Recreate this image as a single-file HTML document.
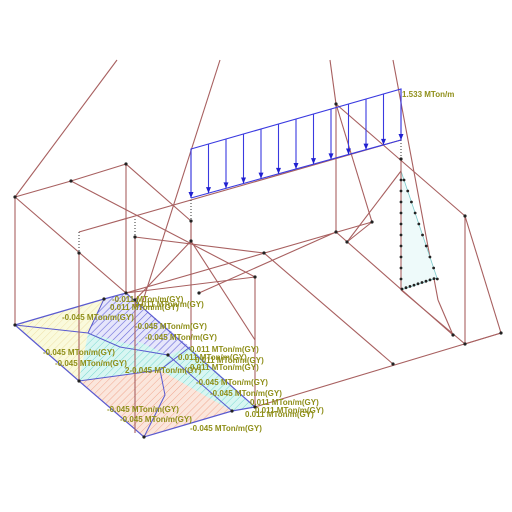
<!DOCTYPE html>
<html><head><meta charset="utf-8"><style>
html,body{margin:0;padding:0;background:#fff;}
svg{display:block;}
.m{stroke:#a86060;stroke-width:1.1;fill:none;}
.lab{font-family:"Liberation Sans",sans-serif;font-size:8px;font-weight:bold;fill:#8f8f1a;}
</style></head><body>
<svg id="s" width="512" height="512" viewBox="0 0 512 512">
<defs>
<pattern id="hb" width="5" height="5" patternUnits="userSpaceOnUse" patternTransform="rotate(45)"><rect width="5" height="5" fill="#e6e6fb"/><line x1="0" y1="0" x2="0" y2="5" stroke="#6a6ad8" stroke-width="1.2"/></pattern>
<pattern id="hc" width="5" height="5" patternUnits="userSpaceOnUse" patternTransform="rotate(45)"><rect width="5" height="5" fill="#d8f6f2"/><line x1="0" y1="0" x2="0" y2="5" stroke="#7ad8d0" stroke-width="1"/></pattern>
<pattern id="ho" width="5" height="5" patternUnits="userSpaceOnUse" patternTransform="rotate(45)"><rect width="5" height="5" fill="#fbe6dc"/><line x1="0" y1="0" x2="0" y2="5" stroke="#f0a890" stroke-width="1"/></pattern>
<pattern id="hy" width="5" height="5" patternUnits="userSpaceOnUse" patternTransform="rotate(45)"><rect width="5" height="5" fill="#fafadc"/><line x1="0" y1="0" x2="0" y2="5" stroke="#eee0a8" stroke-width="1"/></pattern>
</defs>
<g>
<polygon points="15,325 104,299 126,293 88,333 79,381" fill="url(#hy)"/>
<polygon points="104,299 126,293 190,347 168,355 120,347 88,333" fill="url(#hb)"/>
<polygon points="79,381 88,333 168,355 232,411 175,388" fill="url(#hc)"/>
<polygon points="135,340 168,355 190,347 255,407 232,411 160,370" fill="url(#hc)"/>
<polygon points="79,381 160,370 232,411 144,437" fill="url(#ho)"/>
<polyline points="15,325 104,299 126,293 255,407 232,411 144,437 79,381 15,325" stroke="#5a5ad0" stroke-width="1.2" fill="none"/>
<polyline points="15,325 88,333 120,347 168,355 232,411" stroke="#5a5ad0" stroke-width="1" fill="none"/>
<polyline points="79,381 160,370 190,347" stroke="#5a5ad0" stroke-width="1" fill="none"/>
<polyline points="104,299 88,333" stroke="#5a5ad0" stroke-width="1" fill="none"/>
<polyline points="160,370 165,395 144,437" stroke="#5a5ad0" stroke-width="1" fill="none"/>
</g>
<g id="frame"></g>
<g id="load"></g>
<g id="tri"></g>
<text class="lab" x="402" y="97">1.533 MTon/m</text>
<g>
<text class="lab" x="62" y="320">-0.045 MTon/m(GY)</text>
<text class="lab" x="112" y="302">-0.011 MTon/m(GY)</text>
<text class="lab" x="135" y="307">0.011 MTon/m(GY)</text>
<text class="lab" x="110" y="310">0.011 MTon/m(GY)</text>
<text class="lab" x="135" y="329">-0.045 MTon/m(GY)</text>
<text class="lab" x="145" y="340">-0.045 MTon/m(GY)</text>
<text class="lab" x="190" y="352">0.011 MTon/m(GY)</text>
<text class="lab" x="178" y="360">0.011 MTon/m(GY)</text>
<text class="lab" x="195" y="363">0.011 MTon/m(GY)</text>
<text class="lab" x="190" y="370">0.011 MTon/m(GY)</text>
<text class="lab" x="43" y="355">-0.045 MTon/m(GY)</text>
<text class="lab" x="55" y="366">-0.045 MTon/m(GY)</text>
<text class="lab" x="125" y="373">2-0.045 MTon/m(GY)</text>
<text class="lab" x="196" y="385">-0.045 MTon/m(GY)</text>
<text class="lab" x="210" y="396">-0.045 MTon/m(GY)</text>
<text class="lab" x="250" y="405">0.011 MTon/m(GY)</text>
<text class="lab" x="255" y="413">0.011 MTon/m(GY)</text>
<text class="lab" x="245" y="417">0.011 MTon/m(GY)</text>
<text class="lab" x="107" y="412">-0.045 MTon/m(GY)</text>
<text class="lab" x="120" y="422">-0.045 MTon/m(GY)</text>
<text class="lab" x="190" y="431">-0.045 MTon/m(GY)</text>
</g>
</svg>
<script>
const NS="http://www.w3.org/2000/svg";
const members=[[117,60,15,197],[15,197,71,181],[71,181,126,164],[15,197,15,325],[126,164,126,293],
[15,197,126,293],[71,181,255,277],[126,164,191,221],[79,232,401,140],[79,253,79,381],[135,237,135,433],
[191,221,191,350],[191,241,135,300],[191,241,255,340],[255,277,255,407],[126,293,255,277],[199,293,336,232],
[126,293,372,222],[220,60,140,310],[330,60,336,104],[336,104,336,232],[336,104,372,222],[372,222,347,242],
[347,242,401,171],[336,104,465,216],[465,216,465,344],[465,216,501,333],[465,344,501,333],[255,407,501,333],
[336,232,453,335],[264,253,393,364],[401,159,401,171],[401,290,465,344],[393,60,438,300],[438,300,453,335],[135,237,264,253],[191,221,191,241]];
const nodes=[[15,197],[71,181],[126,164],[15,325],[126,293],[79,253],[135,237],[191,221],[191,241],[255,277],[199,293],[264,253],[336,232],[336,104],[372,222],[347,242],[401,159],[465,216],[465,344],[501,333],[453,335],[393,364],[104,299],[232,411],[144,437],[79,381],[135,300],[168,355],[255,407]];
const fr=document.getElementById('frame');
for(const m of members){const l=document.createElementNS(NS,'line');


l.setAttribute('x1',m[0]);l.setAttribute('y1',m[1]);l.setAttribute('x2',m[2]);l.setAttribute('y2',m[3]);l.setAttribute('class','m');fr.appendChild(l);}
for(const d of [[79,232,79,253],[135,219,135,237],[191,200,191,221],[401,140,401,159]]){const l=document.createElementNS(NS,'line');


l.setAttribute('x1',d[0]);l.setAttribute('y1',d[1]);l.setAttribute('x2',d[2]);l.setAttribute('y2',d[3]);l.setAttribute('stroke','#333');l.setAttribute('stroke-dasharray','1,2');fr.appendChild(l);}
for(const n of nodes){const c=document.createElementNS(NS,'circle');


c.setAttribute('cx',n[0]);c.setAttribute('cy',n[1]);c.setAttribute('r',1.6);c.setAttribute('fill','#222');fr.appendChild(c);}
const arrowFractions=[0,1,2,3,4,5,6,7,8,9,10,11,12];
const ld=document.getElementById('load');
const x0=191,x1=401,ty0=149,ty1=89,by0=198,by1=140;
function lp(){const p=document.createElementNS(NS,'path');p.setAttribute('stroke','#3a3ae0');p.setAttribute('fill','none');p.setAttribute('stroke-width','1.1');return p;}
let p=lp();p.setAttribute('d',`M${x0},${by0} L${x0},${ty0} L${x1},${ty1} L${x1},${by1} L${x0},${by0}`);


ld.appendChild(p);
for(const i of arrowFractions){const t=i/12;const x=x0+(x1-x0)*t,yt=ty0+(ty1-ty0)*t,yb=by0+(by1-by0)*t;
const a=lp();a.setAttribute('d',`M${x},${yt} L${x},${yb}`);


ld.appendChild(a);
const h=document.createElementNS(NS,'polygon');


h.setAttribute('points',`${x-2.5},${yb-6} ${x+2.5},${yb-6} ${x},${yb}`);h.setAttribute('fill','#2020d0');ld.appendChild(h);}
const tr=document.getElementById('tri');
const tri=document.createElementNS(NS,'polygon');


tri.setAttribute('points','401,171 401,290 437,278');tri.setAttribute('fill','#eefafa');tri.setAttribute('stroke','#7ac8c8');tri.setAttribute('stroke-width','0.8');tr.appendChild(tri);
const wl=document.createElementNS(NS,'line');


wl.setAttribute('x1',401);wl.setAttribute('y1',171);wl.setAttribute('x2',401);wl.setAttribute('y2',290);wl.setAttribute('class','m');tr.appendChild(wl);
for(let k=0;k<10;k++){const y=180+k*11;const c=document.createElementNS(NS,'circle');


c.setAttribute('cx',401);c.setAttribute('cy',y);c.setAttribute('r',1.4);c.setAttribute('fill','#222');tr.appendChild(c);
const c2=document.createElementNS(NS,'circle');


c2.setAttribute('cx',401+36*(y-171)/107);c2.setAttribute('cy',y);c2.setAttribute('r',1.4);c2.setAttribute('fill','#222');tr.appendChild(c2);}
for(let k=0;k<9;k++){const c=document.createElementNS(NS,'circle');


c.setAttribute('cx',402+k*4);c.setAttribute('cy',289-k*1.3);c.setAttribute('r',1.4);c.setAttribute('fill','#222');tr.appendChild(c);}
</script>
</body></html>
